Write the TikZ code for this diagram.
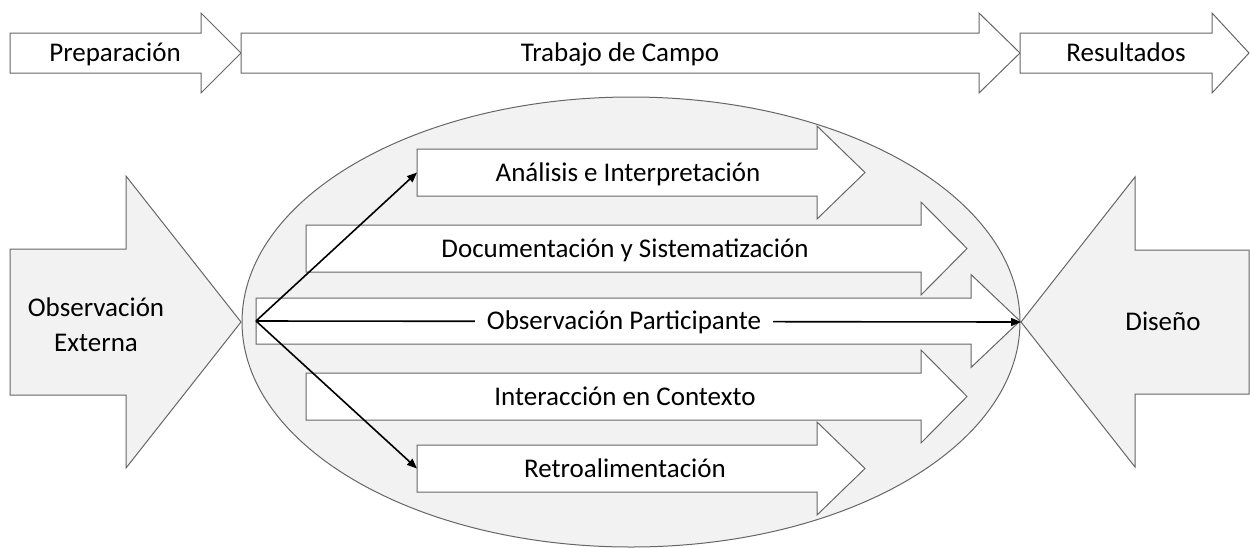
\documentclass[tikz,border=0pt]{standalone}
\usepackage{fontspec}
\setmainfont{Carlito}
\usepackage{tikz}
\usetikzlibrary{arrows.meta}

\definecolor{shade}{HTML}{F2F2F2}
\definecolor{edge}{HTML}{666666}

% block arrow: [style]{name}{tail x}{head x}{tip x}{mid y}{half body}{half head}
\newcommand{\blockarrow}[8][]{%
  \draw[#1]
    (#3,#6-#7) -- (#4,#6-#7) -- (#4,#6-#8) -- (#5,#6)
    -- (#4,#6+#8) -- (#4,#6+#7) -- (#3,#6+#7) -- cycle;
  \coordinate (#2-tail) at (#3,#6);
  \coordinate (#2-tip) at (#5,#6);}

\tikzset{
  blk/.style={draw=edge, line width=1pt, fill=white},
  big/.style={blk, fill=shade},
  txt/.style={font=\fontsize{27}{35}\selectfont, inner sep=0pt},
  lbl/.style={txt, text height=17.4pt, text depth=0pt},
  link/.style={line width=1.6pt, -{Triangle[length=10pt,width=8pt]}},
}

\begin{document}
\begin{tikzpicture}[x=1pt, y=-1pt]
  \useasboundingbox
    (0,0)
    rectangle
    (1250,547);

  % phases
  \blockarrow[blk]{prep}{10}{201}{241}{53}{20}{40}
  \blockarrow[blk]{campo}{241}{979}{1020}{53}{20}{40}
  \blockarrow[blk]{res}{1020}{1212}{1249}{53}{20}{40}

  % field work
  \draw[big]
    (631,322)
    ellipse [x radius=389pt, y radius=225pt];
  \blockarrow[big]{ext}{10}{126}{241}{322}{73}{146}
  \blockarrow[big]{dis}{1249}{1135}{1021}{322}{72}{145}

  \blockarrow[blk]{ana}{417}{817}{865}{172.5}{23.5}{46.5}
  \blockarrow[blk]{doc}{306}{921}{967}{248.5}{23.5}{46.5}
  \blockarrow[blk]{obs}{256}{971}{1020}{321}{23}{46.5}
  \blockarrow[blk]{inter}{306}{921}{967}{396.5}{23.5}{46.5}
  \blockarrow[blk]{retro}{417}{817}{865}{468.5}{23.5}{46.5}

  \draw[link]
    (obs-tail)
    --
    (ana-tail);
  \draw[link]
    (obs-tail)
    --
    (retro-tail);
  \draw[link]
    (obs-tail)
    --
    (dis-tip);

  % labels
  \node[lbl] (lprep) at (115,53) {Preparación};
  \node[lbl] (lcampo) at (620,53) {Trabajo de Campo};
  \node[lbl] (lres) at (1126,53) {Resultados};
  \node[txt, align=center] (lext) at (96,325) {Observación\\Externa};
  \node[lbl] (ldis) at (1163,322) {Diseño};
  \node[lbl] (lana) at (628,172.5) {Análisis e Interpretación};
  \node[lbl] (ldoc) at (625,248.5) {Documentación y Sistematización};
  \node[lbl, fill=white, inner xsep=12pt, inner ysep=4pt] (lobs) at (624,321) {Observación Participante};
  \node[lbl] (linter) at (625,396.5) {Interacción en Contexto};
  \node[lbl] (lretro) at (625,468.5) {Retroalimentación};
\end{tikzpicture}
\end{document}
